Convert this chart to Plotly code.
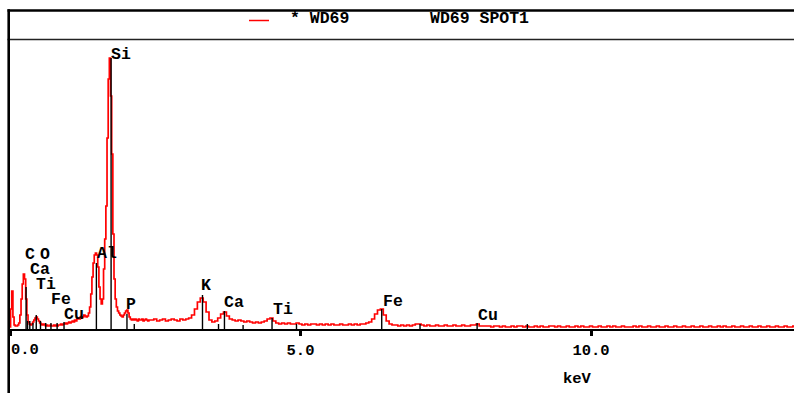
import numpy as np
import plotly.graph_objects as go

# ---- spectrum data -------------------------------------------------------
# Low-energy part: 0.00 .. 2.40 keV, 0.02 keV per channel
low_start_kev = 0.0
low_step_kev = 0.02
low_counts = [
    2, 20, 38, 12, 4, 3, 3, 4, 6, 14,
    30, 45, 55, 50, 30, 14, 7, 5, 4, 5,
    7, 9, 11, 12, 10, 8, 6, 5, 4, 5,
    4, 3, 4, 3, 3, 4, 3, 3, 4, 3,
    4, 3, 4, 4, 5, 4, 5, 5, 6, 5,
    6, 7, 6, 7, 8, 7, 9, 8, 10, 11,
    10, 12, 11, 12, 14, 13, 12, 13, 16, 22,
    35, 52, 66, 74, 76, 74, 62, 42, 30, 25,
    30, 60, 90, 123, 191, 250, 271, 233, 175, 95,
    50, 30, 22, 18, 16, 14, 13, 12, 14, 16,
    18, 19, 16, 12, 10, 9, 10, 9, 10, 9,
    8, 10, 9, 9, 10, 8, 9, 10, 9, 8,
    9,
]

# High-energy part: 2.45 .. 13.50 keV, 0.05 keV per channel
high_start_kev = 2.45
high_step_kev = 0.05
high_counts = [
    9, 10, 8, 9, 10, 8, 9, 10, 9, 8,
    10, 9, 10, 11, 14, 20, 27, 31, 27, 17,
    9, 7, 8, 11, 15, 17, 13, 10, 9, 8,
    9, 8, 7, 8, 7, 6, 7, 6, 7, 8,
    10, 11, 8, 6, 5, 6, 5, 6, 5, 5,
    6, 5, 4, 5, 4, 5, 5, 4, 5, 4,
    5, 4, 5, 4, 4, 5, 4, 4, 5, 4,
    5, 4, 5, 5, 6, 7, 10, 15, 19, 20,
    14, 8, 5, 4, 4, 3, 4, 3, 4, 3,
    4, 5, 5, 4, 3, 4, 3, 3, 4, 3,
    3, 4, 3, 3, 4, 3, 3, 4, 3, 3,
    4, 4, 5, 3, 3, 3, 3, 2, 3, 3,
    2, 3, 2, 2, 3, 2, 3, 3, 2, 3,
    2, 2, 3, 2, 3, 2, 2, 3, 3, 2,
    3, 2, 2, 3, 2, 2, 3, 2, 3, 2,
    2, 3, 2, 2, 3, 2, 2, 3, 2, 3,
    2, 2, 3, 2, 2, 2, 3, 2, 3, 2,
    2, 3, 2, 2, 3, 2, 2, 3, 2, 2,
    3, 2, 2, 3, 2, 2, 3, 2, 2, 3,
    2, 2, 3, 2, 2, 3, 2, 3, 2, 2,
    3, 2, 2, 3, 2, 2, 3, 2, 2, 3,
    2, 2, 3, 2, 2, 3, 2, 2, 3, 2,
    2, 3,
]

# KLM marker lines: energy (keV) and marker height (counts)
marker_kev = [0.277, 0.302, 0.341, 0.395, 0.452, 0.525, 0.615, 0.705, 0.811, 0.930,
              1.487, 1.740, 2.013, 2.139, 3.313, 3.589, 3.691, 4.012, 4.510, 4.931,
              6.398, 7.057, 8.040, 8.904]
marker_height = [42, 8, 8, 6, 14, 8, 6, 6, 6, 7,
                 66, 271, 15, 5, 34, 5, 18, 4, 11, 5,
                 20, 5, 6, 5]

# Element labels: text, energy of left edge (keV), label centre height (counts)
label_text = ["Si", "Al", "C", "O", "Ca", "Ti", "Fe", "Cu",
              "P", "K", "Ca", "Ti", "Fe", "Cu"]
label_kev = [1.73, 1.49, 0.26, 0.52, 0.345, 0.45, 0.705, 0.93,
             2.00, 3.29, 3.68, 4.53, 6.42, 8.05]
label_height = [275, 76, 75, 75, 60, 45, 30, 15,
                25, 44, 27, 20, 28, 14]

# Energy axis ticks; the label at 0 keV is drawn left-aligned so it stays inside the page
tick_values = [0, 5, 10]
tick_labels = ["", "5.0", "10.0"]
zero_tick_label = "0.0"

series_name = "* WD69"
sample_title = "WD69 SPOT1"
x_title = "keV"

# ---- build figure --------------------------------------------------------
low_kev = low_start_kev + low_step_kev * np.arange(len(low_counts))
high_kev = high_start_kev + high_step_kev * np.arange(len(high_counts))
energy = np.concatenate([low_kev, high_kev])
counts = np.array(low_counts + high_counts)

W, H = 794, 393
ML, MR, MT, MB = 10, 0, 40, 64
PW, PH = W - ML - MR, H - MT - MB
KEV_PER_PX = 1 / 58.1
X_MAX = PW * KEV_PER_PX
Y_MAX = PH

MONO = "Liberation Mono"
LABEL_FONT = dict(family=MONO, size=16.5, color="black", weight="bold")
TICK_FONT = dict(family=MONO, size=15.5, color="black", weight="bold")

fig = go.Figure()

fig.add_trace(go.Scatter(
    x=energy, y=counts, mode="lines",
    line=dict(color="#ff0000", width=1.7, shape="hvh"),
    name=series_name, showlegend=False, hoverinfo="skip",
))

mx, my = [], []
for e, h in zip(marker_kev, marker_height):
    mx += [e, e, None]
    my += [0, h, None]
fig.add_trace(go.Scatter(
    x=mx, y=my, mode="lines",
    line=dict(color="black", width=1.4),
    showlegend=False, hoverinfo="skip",
))


def px_to_paper_x(px):
    return (px - ML) / PW


def px_to_paper_y(py):
    return (H - MB - py) / PH


shapes = [
    # header frame lines
    dict(type="line", xref="paper", yref="paper",
         x0=px_to_paper_x(7.5), x1=1.0, y0=px_to_paper_y(10.5), y1=px_to_paper_y(10.5),
         line=dict(color="black", width=2.6)),
    dict(type="line", xref="paper", yref="paper",
         x0=px_to_paper_x(7.5), x1=1.0, y0=px_to_paper_y(39.5), y1=px_to_paper_y(39.5),
         line=dict(color="#222222", width=1.4)),
    # left border
    dict(type="line", xref="paper", yref="paper",
         x0=px_to_paper_x(8.7), x1=px_to_paper_x(8.7), y0=px_to_paper_y(9.3), y1=px_to_paper_y(393),
         line=dict(color="black", width=2.6)),
    # legend sample
    dict(type="line", xref="paper", yref="paper",
         x0=px_to_paper_x(249), x1=px_to_paper_x(269), y0=px_to_paper_y(20.5), y1=px_to_paper_y(20.5),
         line=dict(color="#ff0000", width=1.5)),
]

annotations = []
for t, e, h in zip(label_text, label_kev, label_height):
    annotations.append(dict(
        x=e, y=h, xref="x", yref="y", text=t, showarrow=False,
        xanchor="left", yanchor="middle", xshift=-1, borderpad=0,
        font=LABEL_FONT,
    ))
annotations += [
    dict(x=tick_values[0], y=px_to_paper_y(350), xref="x", yref="paper",
         text=zero_tick_label, showarrow=False, xanchor="left", yanchor="middle",
         borderpad=0, font=TICK_FONT),
    dict(x=px_to_paper_x(290), y=px_to_paper_y(18.5), xref="paper", yref="paper",
         text=series_name, showarrow=False, xanchor="left", yanchor="middle", xshift=-1,
         borderpad=0, font=LABEL_FONT),
    dict(x=px_to_paper_x(430), y=px_to_paper_y(18.5), xref="paper", yref="paper",
         text=sample_title, showarrow=False, xanchor="left", yanchor="middle", xshift=-1,
         borderpad=0, font=LABEL_FONT),
    dict(x=px_to_paper_x(577.5), y=px_to_paper_y(379), xref="paper", yref="paper",
         text=x_title, showarrow=False, xanchor="center", yanchor="middle", borderpad=0,
         font=TICK_FONT),
]

fig.update_layout(
    width=W, height=H, autosize=False,
    margin=dict(l=ML, r=MR, t=MT, b=MB, pad=0),
    paper_bgcolor="white", plot_bgcolor="white",
    showlegend=False,
    shapes=shapes, annotations=annotations,
    xaxis=dict(
        range=[0, X_MAX], showgrid=False, zeroline=False, automargin=False,
        showline=True, linecolor="black", linewidth=2,
        tickmode="array", tickvals=tick_values, ticktext=tick_labels,
        ticks="outside", ticklen=5, tickwidth=3, tickcolor="black",
        tickfont=TICK_FONT,
        fixedrange=True,
    ),
    yaxis=dict(range=[0, Y_MAX], visible=False, fixedrange=True, automargin=False),
)

fig.write_html("out.html")
